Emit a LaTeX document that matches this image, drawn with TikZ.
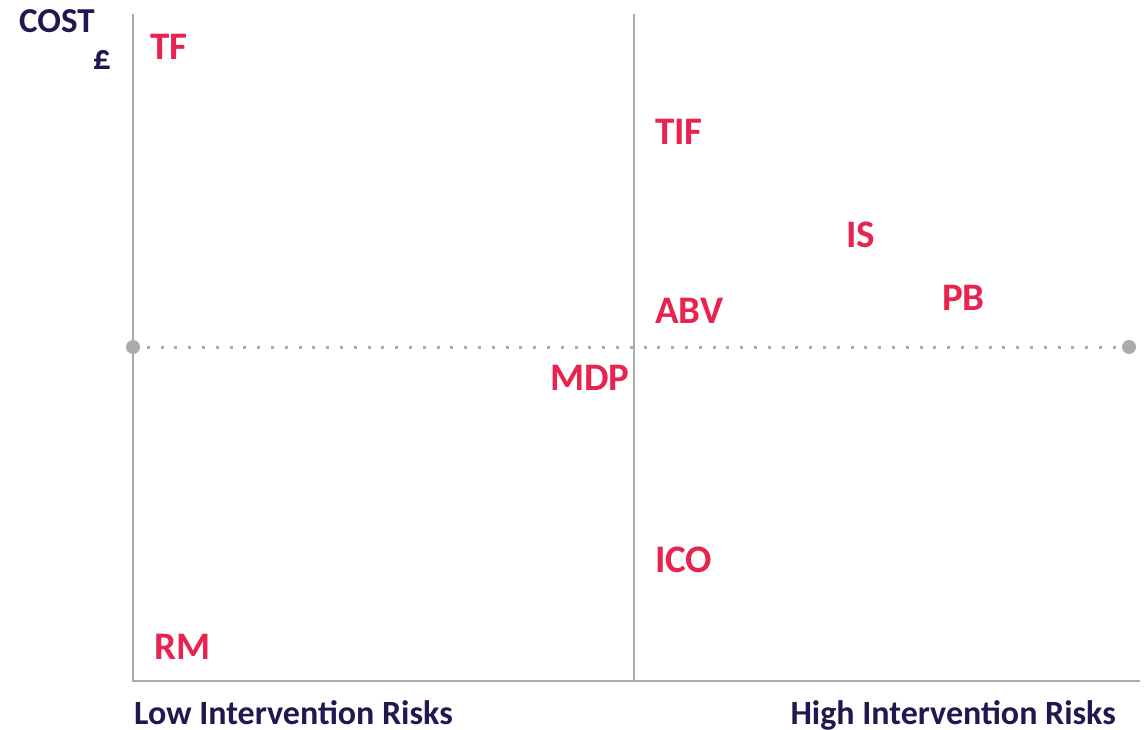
\documentclass[tikz,border=0pt]{standalone}
\usepackage{fontspec}
\setmainfont{Carlito}
\definecolor{labelred}{HTML}{E8234F}
\definecolor{axisink}{HTML}{24164F}
\definecolor{rulegray}{HTML}{ABABAB}
\begin{document}
\begin{tikzpicture}[x=1pt,y=-1pt,
  item/.style={anchor=base west,inner sep=0pt,text=labelred,font=\fontsize{39}{41}\selectfont\bfseries},
  axislabel/.style={anchor=base west,inner sep=0pt,text=axisink,font=\fontsize{34}{36}\selectfont\bfseries},
  endpoint/.style={circle,fill=rulegray,inner sep=0pt,minimum size=14pt},
  rule/.style={draw=rulegray,line width=1.3pt}]
\useasboundingbox (0,0) rectangle (1145,730);
% frame of the chart
\coordinate (top) at (133,14);
\coordinate (origin) at (133,681);
\coordinate (xend) at (1140,681);
\coordinate (midtop) at (634,14);
\coordinate (midbot) at (634,681);
\draw[rule] (top) -- (origin) -- (xend);
\draw[rule] (midtop) -- (midbot);
% dotted mid-cost line with round ends
\node[endpoint] (lm) at (133,347) {};
\node[endpoint] (rm) at (1129,347) {};
\draw[rulegray,line width=3pt,dash pattern=on 3pt off 10.8pt] (lm.center) -- (rm.center);
% axis captions
\node[axislabel,font=\fontsize{35}{37}\selectfont\bfseries] (cost) at (19,33) {COST};
\node[axislabel,anchor=base east,font=\fontsize{35}{37}\selectfont\bfseries] (pound) at (111,70) {£};
\node[axislabel] (low) at (134,724) {Low Intervention Risks};
\node[axislabel,anchor=base east] (high) at (1116,724) {High Intervention Risks};
% options
\node[item] (tf) at (150,60) {TF};
\node[item] (tif) at (655,145) {TIF};
\node[item] (is) at (846,247) {IS};
\node[item] (pb) at (942,310) {PB};
\node[item] (abv) at (655,323) {ABV};
\node[item] (mdp) at (550,390) {MDP};
\node[item] (ico) at (655,572) {ICO};
\node[item] (rmk) at (154,659) {RM};
\end{tikzpicture}
\end{document}
